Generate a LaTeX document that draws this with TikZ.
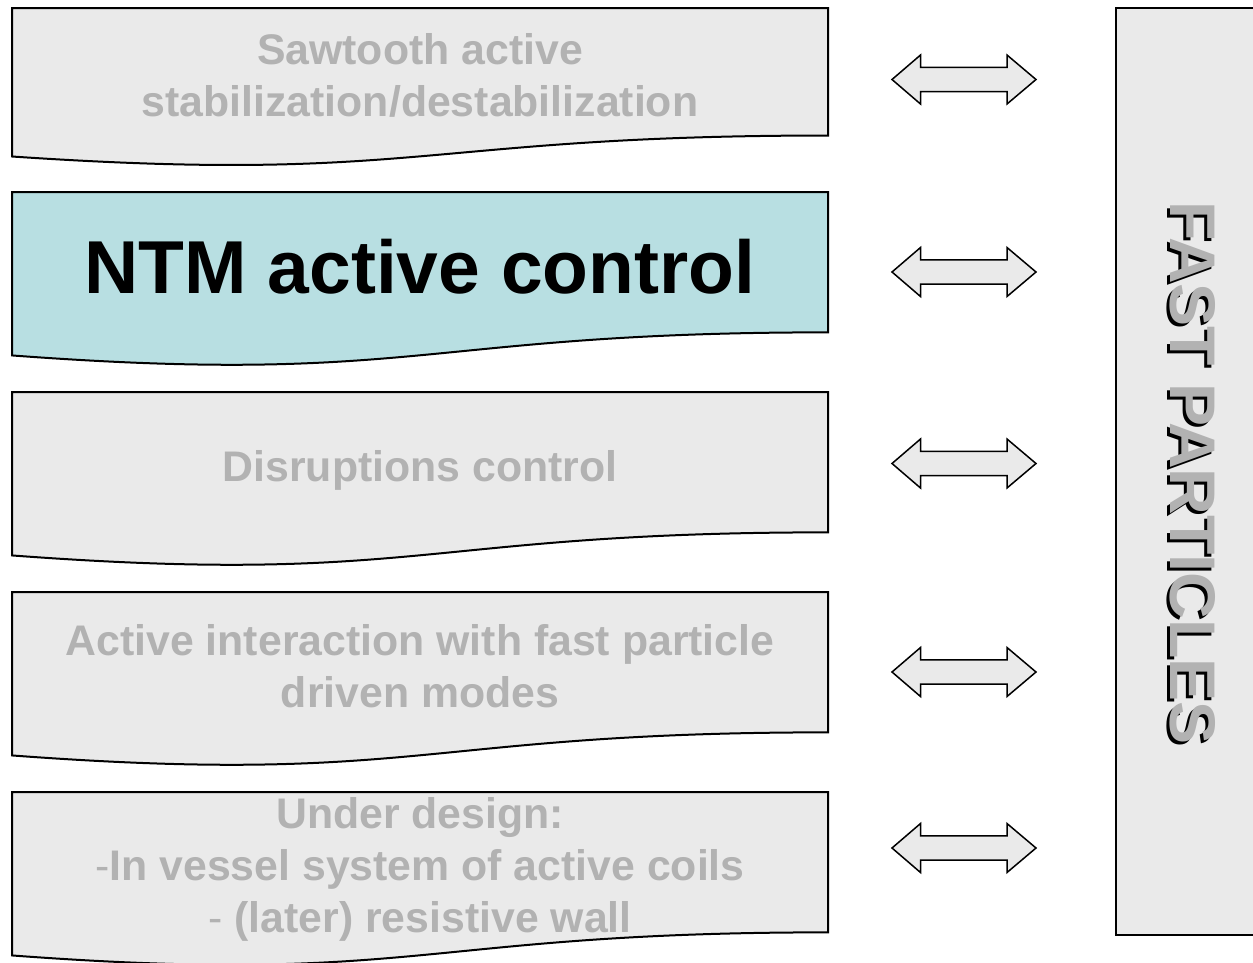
\documentclass[tikz,border=0pt]{standalone}
\usepackage{fontspec}
\setmainfont{Liberation Sans}
\definecolor{boxgray}{HTML}{EAEAEA}
\definecolor{txtgray}{HTML}{B2B2B2}
\definecolor{ntmblue}{HTML}{B8DFE2}
\newcommand\docbox[3]{% top, height, fill
  \draw[boxline, fill=#3] (12,#1) -- (828,#1) -- (828,{#1+0.802*#2})
    .. controls (420,{#1+0.802*#2}) and (420,{#1+1.1075*#2}) .. (12,{#1+0.9339*#2}) -- cycle;}
\newcommand\dblarrow[1]{% center y
  \draw[arrowline] (892,#1) -- (920.5,{#1-24.5}) -- (920.5,{#1-12.2}) -- (1007,{#1-12.2})
    -- (1007,{#1-24.5}) -- (1036,#1) -- (1007,{#1+24.5}) -- (1007,{#1+12.2})
    -- (920.5,{#1+12.2}) -- (920.5,{#1+24.5}) -- cycle;}
\begin{document}
\begin{tikzpicture}[x=1pt,y=-1pt,
  boxline/.style={draw=black, line width=2pt},
  arrowline/.style={draw=black, line width=1.5pt, fill=boxgray, line join=miter},
  graytext/.style={text=txtgray, font=\fontsize{42.8}{52}\selectfont\bfseries, anchor=base, inner sep=0pt},
  bigtext/.style={text=black, font=\fontsize{75}{90}\selectfont\bfseries, anchor=base, inner sep=0pt},
  fasttext/.style={font=\fontsize{64.5}{75}\selectfont\bfseries, anchor=base, inner sep=0pt, rotate=-90}]
\useasboundingbox (0,0) rectangle (1253,962);
\clip (0,0) rectangle (1253,962);
\fill[white] (0,0) rectangle (1253,962);
% left document boxes
\docbox{8}{159}{boxgray}
\docbox{192}{175}{ntmblue}
\docbox{392}{175}{boxgray}
\docbox{592}{175}{boxgray}
\docbox{792}{175}{boxgray}
% texts
\node[graytext] (t1a) at (420,64) {Sawtooth active};
\node[graytext] (t1b) at (420,116) {stabilization/destabilization};
\node[bigtext] (t2) at (420,293) {NTM active control};
\node[graytext] (t3) at (420,481) {Disruptions control};
\node[graytext] (t4a) at (420,655) {Active interaction with fast particle};
\node[graytext] (t4b) at (420,707) {driven modes};
\node[graytext] (t5a) at (420,828) {Under design:};
\node[graytext] (t5b) at (420,880) {{\mdseries -}In vessel system of active coils};
\node[graytext] (t5c) at (420,932) {{\mdseries -} (later) resistive wall};
% arrows
\dblarrow{79.5}
\dblarrow{272}
\dblarrow{463.5}
\dblarrow{672}
\dblarrow{848}
% right box
\draw[line width=2.5pt, fill=boxgray] (1116,8) rectangle (1270,935);
\node[fasttext, text=black] (fpshadow) at (1167.5,476) {FAST PARTICLES};
\node[fasttext, text=txtgray] (fp) at (1170.5,473) {FAST PARTICLES};
\end{tikzpicture}
\end{document}
